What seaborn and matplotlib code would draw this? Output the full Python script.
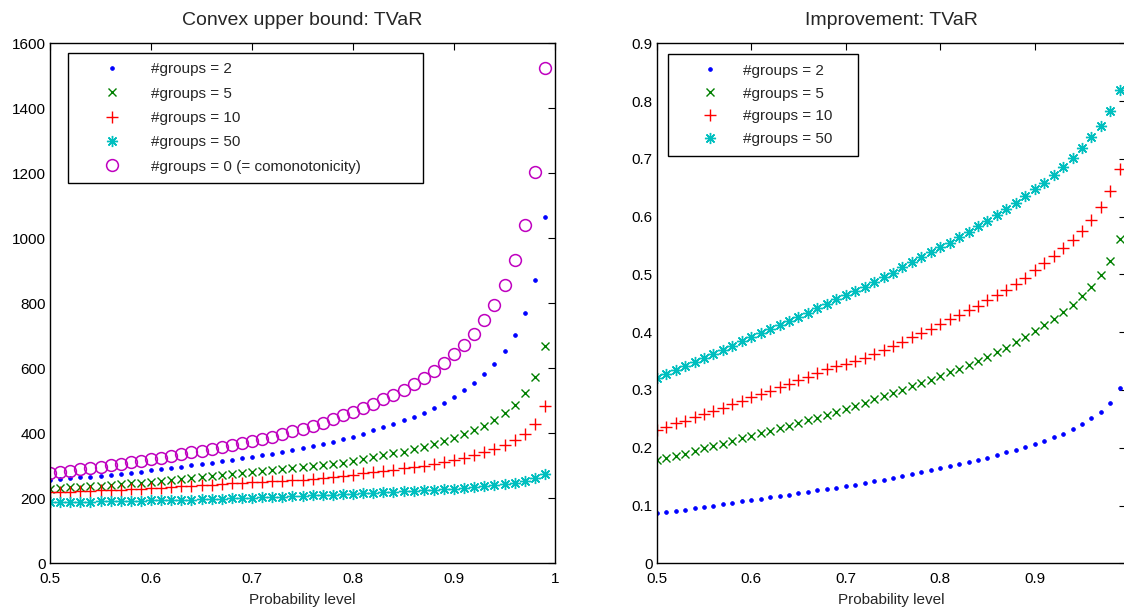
import matplotlib
matplotlib.use("Agg")
import matplotlib.pyplot as plt
import seaborn as sns

# probability levels 0.50 ... 0.99
levels = [0.50, 0.51, 0.52, 0.53, 0.54, 0.55, 0.56, 0.57, 0.58, 0.59,
          0.60, 0.61, 0.62, 0.63, 0.64, 0.65, 0.66, 0.67, 0.68, 0.69,
          0.70, 0.71, 0.72, 0.73, 0.74, 0.75, 0.76, 0.77, 0.78, 0.79,
          0.80, 0.81, 0.82, 0.83, 0.84, 0.85, 0.86, 0.87, 0.88, 0.89,
          0.90, 0.91, 0.92, 0.93, 0.94, 0.95, 0.96, 0.97, 0.98, 0.99]

# left panel: convex upper bound of TVaR
tvar_g2 = [256, 258, 261, 264, 267, 270, 273, 276, 279, 282,
           286, 289, 293, 297, 301, 305, 309, 314, 318, 323,
           327, 332, 337, 343, 349, 355, 361, 367, 374, 382,
           390, 399, 409, 419, 429, 440, 451, 463, 477, 493,
           512, 532, 555, 582, 614, 652, 702, 771, 872, 1065]
tvar_g5 = [230, 232, 234, 235, 237, 239, 241, 243, 246, 248,
           251, 253, 256, 259, 262, 265, 268, 271, 274, 277,
           280, 283, 287, 290, 294, 297, 300, 303, 306, 310,
           315, 321, 327, 333, 338, 343, 351, 358, 366, 376,
           385, 397, 410, 423, 440, 462, 488, 523, 574, 669]
tvar_g10 = [218, 219, 220, 221, 222, 224, 225, 227, 228, 230,
            232, 233, 235, 237, 239, 241, 242, 244, 246, 248,
            249, 251, 252, 253, 255, 256, 259, 262, 266, 270,
            273, 277, 281, 285, 288, 292, 297, 300, 305, 311,
            318, 325, 333, 342, 352, 364, 379, 398, 430, 483]
tvar_g50 = [189, 189, 189, 190, 190, 191, 191, 192, 192, 193,
            194, 194, 195, 196, 196, 197, 198, 199, 200, 201,
            202, 203, 204, 205, 206, 207, 209, 210, 211, 213,
            214, 215, 217, 218, 219, 221, 222, 224, 226, 228,
            230, 232, 235, 237, 240, 244, 248, 253, 261, 275]
tvar_comon = [278, 281, 285, 289, 293, 297, 302, 306, 311, 315,
              320, 325, 330, 336, 342, 347, 353, 358, 364, 370,
              376, 383, 390, 398, 406, 413, 422, 433, 444, 455,
              466, 477, 491, 505, 519, 534, 551, 570, 592, 615,
              643, 673, 707, 748, 796, 856, 933, 1041, 1205, 1523]

# right panel: improvement
imp_g2 = [0.087, 0.089, 0.091, 0.093, 0.096, 0.098, 0.100, 0.103, 0.105, 0.107,
          0.110, 0.112, 0.114, 0.116, 0.118, 0.121, 0.123, 0.126, 0.128, 0.131,
          0.133, 0.136, 0.139, 0.142, 0.145, 0.148, 0.151, 0.154, 0.158, 0.161,
          0.165, 0.168, 0.171, 0.175, 0.179, 0.183, 0.187, 0.192, 0.196, 0.201,
          0.206, 0.212, 0.218, 0.224, 0.232, 0.241, 0.251, 0.262, 0.278, 0.303]
imp_g5 = [0.178, 0.182, 0.186, 0.190, 0.194, 0.199, 0.203, 0.207, 0.212, 0.216,
          0.221, 0.225, 0.229, 0.234, 0.238, 0.243, 0.248, 0.252, 0.257, 0.262,
          0.267, 0.272, 0.278, 0.284, 0.289, 0.295, 0.300, 0.306, 0.312, 0.318,
          0.325, 0.331, 0.337, 0.343, 0.350, 0.357, 0.365, 0.373, 0.383, 0.392,
          0.402, 0.412, 0.423, 0.435, 0.447, 0.462, 0.479, 0.499, 0.524, 0.562]
imp_g10 = [0.231, 0.236, 0.242, 0.247, 0.253, 0.258, 0.264, 0.269, 0.275, 0.281,
           0.287, 0.293, 0.299, 0.305, 0.311, 0.317, 0.323, 0.330, 0.336, 0.341,
           0.345, 0.350, 0.356, 0.363, 0.369, 0.376, 0.383, 0.391, 0.399, 0.406,
           0.414, 0.422, 0.430, 0.438, 0.446, 0.455, 0.464, 0.473, 0.483, 0.494,
           0.507, 0.519, 0.532, 0.545, 0.559, 0.575, 0.594, 0.616, 0.645, 0.682]
imp_g50 = [0.321, 0.327, 0.334, 0.341, 0.348, 0.355, 0.362, 0.369, 0.376, 0.384,
           0.391, 0.398, 0.405, 0.412, 0.420, 0.427, 0.434, 0.442, 0.449, 0.457,
           0.464, 0.472, 0.479, 0.487, 0.495, 0.503, 0.512, 0.521, 0.530, 0.538,
           0.547, 0.555, 0.564, 0.573, 0.583, 0.593, 0.603, 0.613, 0.624, 0.635,
           0.647, 0.659, 0.672, 0.686, 0.702, 0.718, 0.737, 0.757, 0.783, 0.820]

labels = ["#groups = 2", "#groups = 5", "#groups = 10", "#groups = 50",
          "#groups = 0 (= comonotonicity)"]

# matlab-like marker styles: (marker, color, size, edge width, face)
styles = [
    (".", "#0000ff", 5.5, 0.5, "#0000ff"),
    ("x", "#008000", 6.2, 1.0, "none"),
    ("+", "#ff0000", 9, 1.0, "none"),
    ((8, 2, 0), "#00bfbf", 8, 1.0, "none"),
    ("o", "#bf00bf", 8.5, 1.1, "none"),
]

sns.set_theme(style="white")
plt.rcParams["font.family"] = ["Liberation Sans", "DejaVu Sans"]
plt.rcParams["axes.edgecolor"] = "black"
plt.rcParams["xtick.color"] = "black"
plt.rcParams["ytick.color"] = "black"

FS = 11
W, H = 1124, 609
fig = plt.figure(figsize=(W / 100, H / 100), dpi=100)
ax1 = fig.add_axes([50 / W, 1 - 563.3 / H, 505 / W, 520 / H])
ax2 = fig.add_axes([656.7 / W, 1 - 563.3 / H, 469.7 / W, 520 / H])


def draw(ax, series, title):
    for vals, label, (mk, col, ms, mew, mfc) in zip(series, labels, styles):
        sns.lineplot(x=levels, y=vals, ax=ax, marker=mk, linestyle="none",
                     color=col, markersize=ms, markeredgewidth=mew,
                     markeredgecolor=col, markerfacecolor=mfc, label=label)
    ax.set_title(title, fontsize=14, pad=13)
    ax.set_xlabel("Probability level", fontsize=FS, labelpad=5)
    ax.set_ylabel("")
    ax.tick_params(direction="in", top=True, right=True, length=5, width=0.8,
                   labelsize=FS, pad=3)
    ax.tick_params(axis="x", pad=6)
    for sp in ax.spines.values():
        sp.set_color("black")
        sp.set_linewidth(1.0)


draw(ax1, [tvar_g2, tvar_g5, tvar_g10, tvar_g50, tvar_comon],
     "Convex upper bound: TVaR")
ax1.set_xlim(0.5, 1.0)
ax1.set_ylim(0, 1600)
ax1.set_xticks([0.5, 0.6, 0.7, 0.8, 0.9, 1.0])
ax1.set_xticklabels(["0.5", "0.6", "0.7", "0.8", "0.9", "1"])
ax1.set_yticks(range(0, 1601, 200))
leg1 = ax1.legend(loc="upper left", bbox_to_anchor=(0.036, 0.72, 0.703, 0.262),
                  mode="expand", borderaxespad=0, fontsize=FS, fancybox=False,
                  framealpha=1, edgecolor="black", handlelength=4.5,
                  handletextpad=0.3, labelspacing=0.68, borderpad=0.62)
leg1.get_frame().set_linewidth(1.0)

draw(ax2, [imp_g2, imp_g5, imp_g10, imp_g50], "Improvement: TVaR")
ax2.set_xlim(0.5, 0.997)
ax2.set_ylim(0, 0.9)
ax2.set_xticks([0.5, 0.6, 0.7, 0.8, 0.9])
ax2.set_xticklabels(["0.5", "0.6", "0.7", "0.8", "0.9"])
ax2.set_yticks([0, 0.1, 0.2, 0.3, 0.4, 0.5, 0.6, 0.7, 0.8, 0.9])
ax2.set_yticklabels(["0", "0.1", "0.2", "0.3", "0.4", "0.5", "0.6", "0.7",
                     "0.8", "0.9"])
leg2 = ax2.legend(loc="upper left", bbox_to_anchor=(0.024, 0.775, 0.405, 0.204),
                  mode="expand", borderaxespad=0, fontsize=FS, fancybox=False,
                  framealpha=1, edgecolor="black", handlelength=4.2,
                  handletextpad=0.1, labelspacing=0.58, borderpad=0.62)
leg2.get_frame().set_linewidth(1.0)

fig.savefig("out.png", dpi=100)
plt.close(fig)
